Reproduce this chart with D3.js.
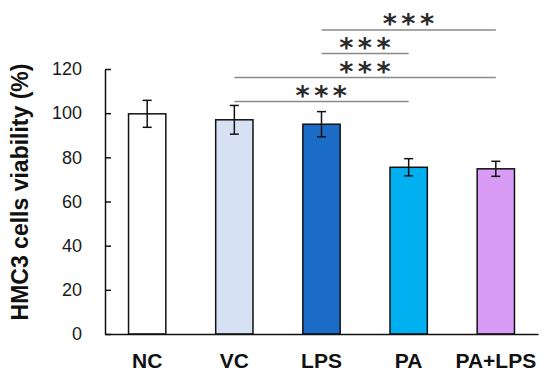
<!DOCTYPE html>
<html>
<head>
<title>HMC3 viability</title>
<script src="https://d3js.org/d3.v7.min.js"></script>
<style>
body,html {
  margin: 0;
  padding: 0;
  background: white;
}
svg {
  display: block;
}
</style>
</head>
<body>

<svg id="chart" width="550" height="383"></svg>

<script>

const groups = ["NC", "VC", "LPS", "PA", "PA+LPS"];
const viability = [99.7, 97.0, 95.0, 75.5, 74.8];
const errors = [6.1, 6.5, 5.7, 3.9, 3.4];
const barColors = ["#ffffff", "#d6e1f3", "#1b6cc6", "#00b0f0", "#d89cf6"];
const yTicks = [0, 20, 40, 60, 80, 100, 120];
// comparisons: from group, to group, label
const pairs = [
  ["LPS", "PA+LPS", "***"],
  ["LPS", "PA", "***"],
  ["VC", "PA+LPS", "***"],
  ["VC", "PA", "***"]
];
const pairLevels = [30, 53.5, 77.5, 101.5];

function drawChart() {
  let svg = d3.select("#chart");
  let margin = { top: 69, right: 12, bottom: 49, left: 105 };
  let width = 550 - margin.left - margin.right;
  let height = 383 - margin.top - margin.bottom;

  let group = svg.append("g")
    .attr("transform", "translate(" + margin.left + "," + margin.top + ")");

  let xScale = d3.scaleBand()
    .domain(groups)
    .range([0, width])
    .paddingInner(0.572)
    .paddingOuter(0.27);

  let yScale = d3.scaleLinear()
    .domain([0, 120])
    .range([height, 0]);

  // bars
  group.selectAll("rect.bar")
    .data(groups)
    .enter().append("rect")
      .attr("class", "bar")
      .attr("x", d => xScale(d))
      .attr("y", (d, i) => yScale(viability[i]))
      .attr("width", xScale.bandwidth())
      .attr("height", (d, i) => height - yScale(viability[i]))
      .attr("fill", (d, i) => barColors[i])
      .attr("stroke", "#111")
      .attr("stroke-width", 1.5);

  // error bars
  let cap = 4.5;
  let err = group.selectAll("g.err")
    .data(groups)
    .enter().append("g")
      .attr("class", "err")
      .attr("stroke", "#111")
      .attr("stroke-width", 1.5);

  err.append("line")
    .attr("x1", d => xScale(d) + xScale.bandwidth() / 2)
    .attr("x2", d => xScale(d) + xScale.bandwidth() / 2)
    .attr("y1", (d, i) => yScale(viability[i] + errors[i]))
    .attr("y2", (d, i) => yScale(viability[i] - errors[i]));

  err.append("line")
    .attr("x1", d => xScale(d) + xScale.bandwidth() / 2 - cap)
    .attr("x2", d => xScale(d) + xScale.bandwidth() / 2 + cap)
    .attr("y1", (d, i) => yScale(viability[i] + errors[i]))
    .attr("y2", (d, i) => yScale(viability[i] + errors[i]));

  err.append("line")
    .attr("x1", d => xScale(d) + xScale.bandwidth() / 2 - cap)
    .attr("x2", d => xScale(d) + xScale.bandwidth() / 2 + cap)
    .attr("y1", (d, i) => yScale(viability[i] - errors[i]))
    .attr("y2", (d, i) => yScale(viability[i] - errors[i]));

  // y axis, ticks pointing inside
  let yAxis = d3.axisLeft(yScale)
    .tickValues(yTicks)
    .tickSizeInner(-6)
    .tickSizeOuter(0)
    .tickPadding(23);

  let yg = group.append("g")
    .call(yAxis);
  yg.selectAll("line,path").attr("stroke", "#111").style("stroke-width", "1.5px");
  yg.selectAll("text")
    .attr("fill", "#1a1a1a")
    .style("font-family", "'Liberation Sans', Arial, sans-serif")
    .style("font-size", "18px");

  // x axis
  let xAxis = d3.axisBottom(xScale)
    .tickSize(0)
    .tickPadding(19);

  let xg = group.append("g")
    .attr("transform", "translate(0," + height + ")")
    .call(xAxis);
  xg.selectAll("path").attr("stroke", "#111").style("stroke-width", "1.5px");
  xg.selectAll("text")
    .attr("fill", "#111")
    .style("font-family", "'Liberation Sans', Arial, sans-serif")
    .style("font-weight", "bold")
    .style("font-size", "21px");

  // y label
  svg.append("text")
    .attr("transform", "translate(28,192) rotate(-90)")
    .attr("text-anchor", "middle")
    .attr("fill", "#111")
    .style("font-family", "'Liberation Sans', Arial, sans-serif")
    .style("font-weight", "bold")
    .style("font-size", "23px")
    .text("HMC3 cells viability (%)");

  // significance brackets
  let mid = d => margin.left + xScale(d) + xScale.bandwidth() / 2;
  pairs.forEach(function(p, i) {
    let yy = pairLevels[i];
    svg.append("line")
      .attr("x1", mid(p[0]))
      .attr("x2", mid(p[1]))
      .attr("y1", yy)
      .attr("y2", yy)
      .attr("stroke", "#8a8a8a")
      .attr("stroke-width", 1.5);
    svg.append("text")
      .attr("x", (mid(p[0]) + mid(p[1])) / 2 + 2)
      .attr("y", yy + 3)
      .attr("text-anchor", "middle")
      .attr("fill", "#2a2a2a")
      .style("font-family", "'DejaVu Sans', sans-serif")
      .style("font-weight", "bold")
      .style("font-size", "27px")
      .style("letter-spacing", "4.5px")
      .text(p[2]);
  });
}

drawChart();

</script>
</body>
</html>
